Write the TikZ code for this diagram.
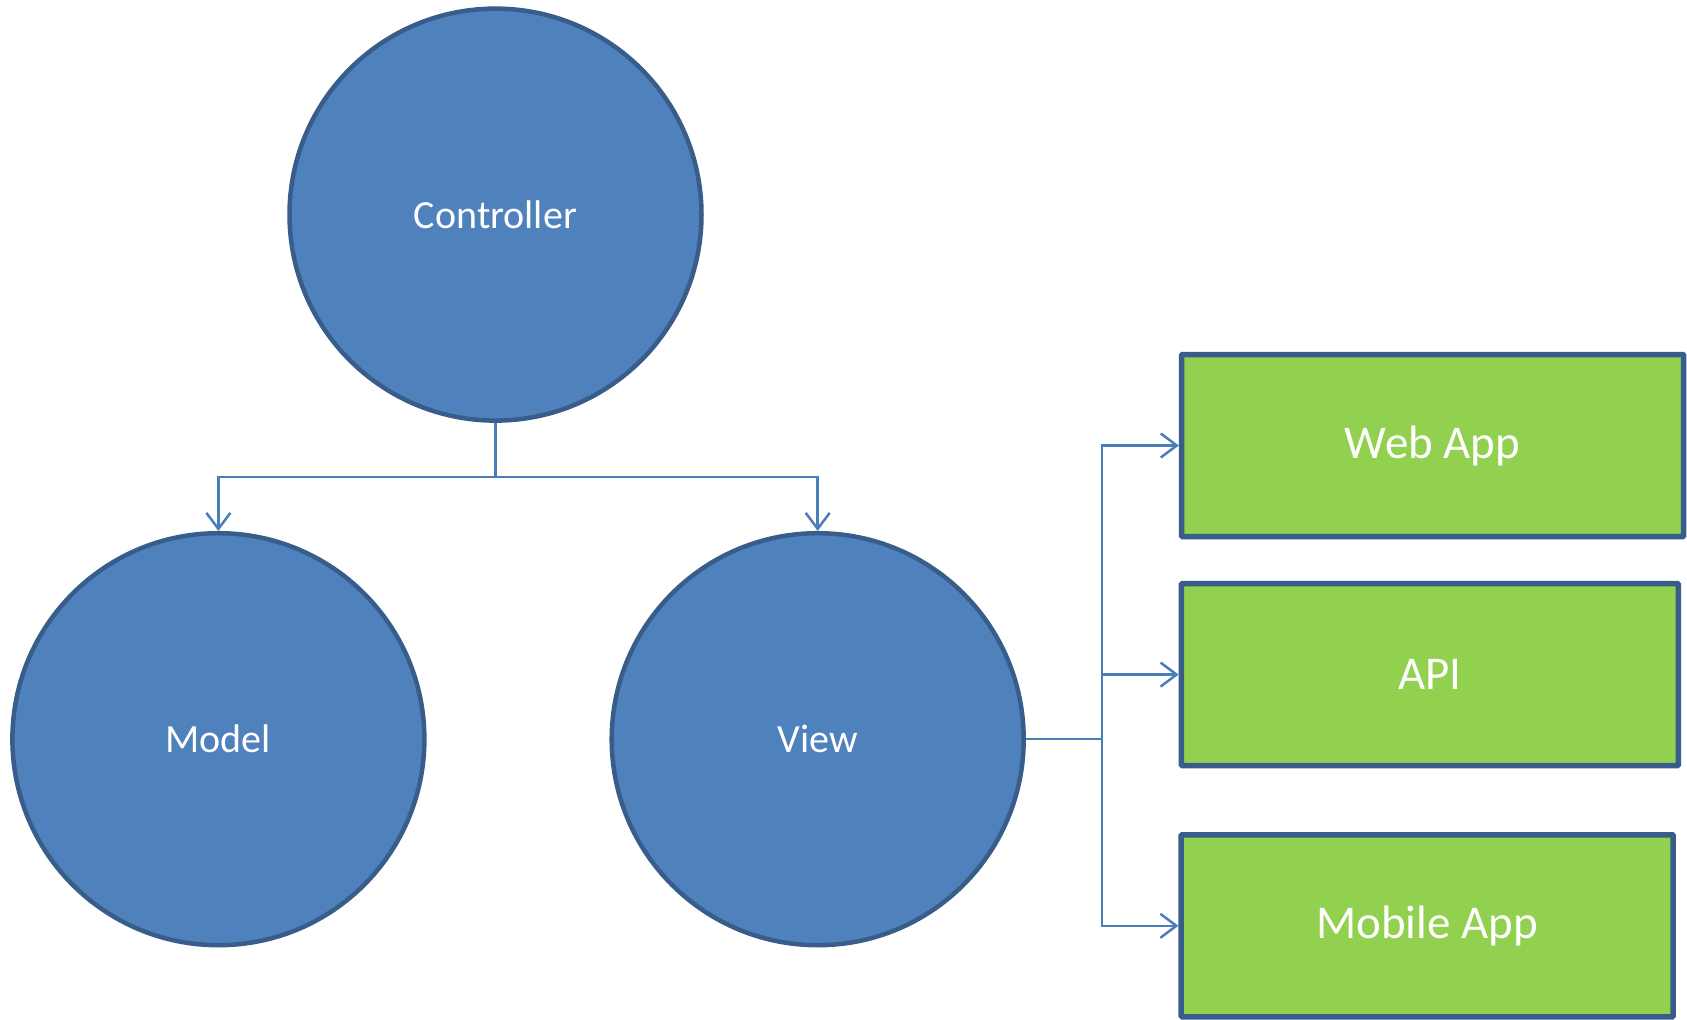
\documentclass[tikz,border=0pt]{standalone}
\usepackage{fontspec}
\setmainfont{Carlito}
\usetikzlibrary{positioning, shapes, arrows.meta}

\definecolor{ovalblue}{HTML}{4F81BD}
\definecolor{edgeblue}{HTML}{385D8A}
\definecolor{lineblue}{HTML}{4A7EBB}
\definecolor{appgreen}{HTML}{92D050}

\begin{document}
\begin{tikzpicture}[
    x=1pt, y=-1pt,
    part/.style={circle, draw=edgeblue, fill=ovalblue, line width=4.5pt, minimum size=412pt, inner sep=0pt, text=white, font=\fontsize{40}{48}\selectfont},
    client/.style={rectangle, draw=edgeblue, fill=appgreen, line width=5.5pt, minimum height=182pt, inner sep=0pt, rounded corners=1pt, text=white, font=\fontsize{47}{56}\selectfont},
    link/.style={draw=lineblue, line width=2.5pt, -{Straight Barb[length=16pt, width=24pt, line width=2.5pt]}}
]
\useasboundingbox (0,0) rectangle (1687,1020);

% MVC parts
\node[part] (Controller) at (495.5,214.6) {Controller};
\node[part] (Model) at (218.4,739.2) {Model};
\node[part] (View) at (817.7,739.2) {View};

% Clients
\node[client, minimum width=502pt] (WebApp) at (1432.6,445.5) {Web App};
\node[client, minimum width=497pt] (API) at (1429.9,674.6) {API};
\node[client, minimum width=492pt] (MobileApp) at (1427.2,925.8) {Mobile App};

% Connections
\draw[link] (Controller.south) -- ++(0,54) -| (Model.north);
\draw[link] (Controller.south) -- ++(0,54) -| (View.north);
\draw[link] (View.east) -- ++(76,0) |- (WebApp.west);
\draw[link] (View.east) -- ++(76,0) |- (API.west);
\draw[link] (View.east) -- ++(76,0) |- (MobileApp.west);

\end{tikzpicture}
\end{document}
